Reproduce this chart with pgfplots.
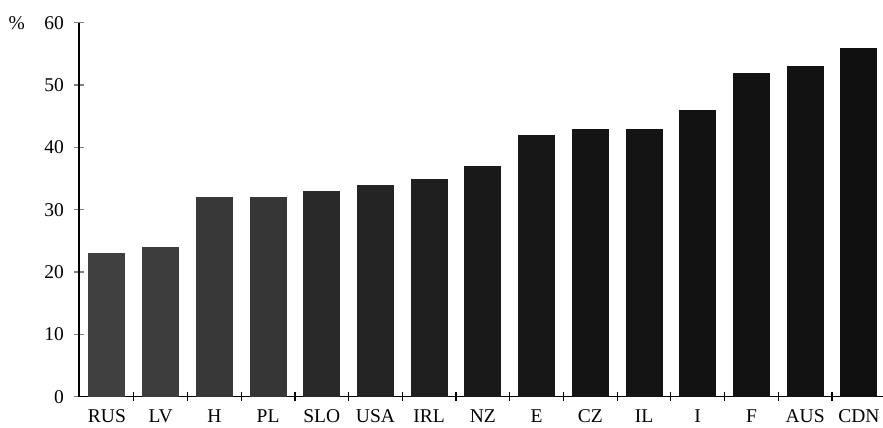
\documentclass[border=0pt]{standalone}
\usepackage{pgfplots}
\pgfplotsset{compat=1.18}
\usepackage{fontspec}
\setmainfont{Liberation Serif}
\begin{document}
\begin{tikzpicture}
\pgfplotsset{mybar/.style={ybar, bar width=37pt, draw=none, fill=#1}}
\begin{axis}[
 scale only axis, width=804pt, height=374pt,
 xmin=-0.52, xmax=14.45, ymin=0, ymax=60,
 axis x line=bottom, axis y line=left,
 axis line style={-, line width=1.4pt},
 ytick={0,10,...,60},
 xtick={0,...,14},
 xticklabels={RUS,LV,H,PL,SLO,USA,IRL,NZ,E,CZ,IL,I,F,AUS,CDN},
 xtick align=center, ytick align=center,
 major tick length=11pt,
 ytick style={line width=1.2pt},
 xtick style={draw=none},
 extra x ticks={0.5,1.5,...,13.5},
 extra x tick labels={},
 extra x tick style={xtick style={draw=black, line width=1.2pt}, major tick length=9pt},
 ticklabel style={font=\fontsize{19.5}{21}\selectfont},
 yticklabel style={xshift=-6pt},
 xticklabel style={yshift=-4pt},
 /pgf/number format/assume math mode=true,
 clip=false,
]
\addplot[mybar=black!75] coordinates {(0,23)};
\addplot[mybar=black!76] coordinates {(1,24)};
\addplot[mybar=black!78] coordinates {(2,32)};
\addplot[mybar=black!79] coordinates {(3,32)};
\addplot[mybar=black!84] coordinates {(4,33)};
\addplot[mybar=black!86] coordinates {(5,34)};
\addplot[mybar=black!88] coordinates {(6,35)};
\addplot[mybar=black!90] coordinates {(7,37)};
\addplot[mybar=black!91] coordinates {(8,42)};
\addplot[mybar=black!92] coordinates {(9,43)};
\addplot[mybar=black!92] coordinates {(10,43)};
\addplot[mybar=black!93] coordinates {(11,46)};
\addplot[mybar=black!93] coordinates {(12,52)};
\addplot[mybar=black!93] coordinates {(13,53)};
\addplot[mybar=black!94] coordinates {(14,56)};
\node[anchor=east, inner sep=0pt, font=\fontsize{19.5}{21}\selectfont] at (axis cs:-0.52,60) [xshift=-54pt] {\%};
\end{axis}
\pgfresetboundingbox
\useasboundingbox (-79pt,-31.3pt) rectangle (804pt,396.7pt);
\end{tikzpicture}
\end{document}
